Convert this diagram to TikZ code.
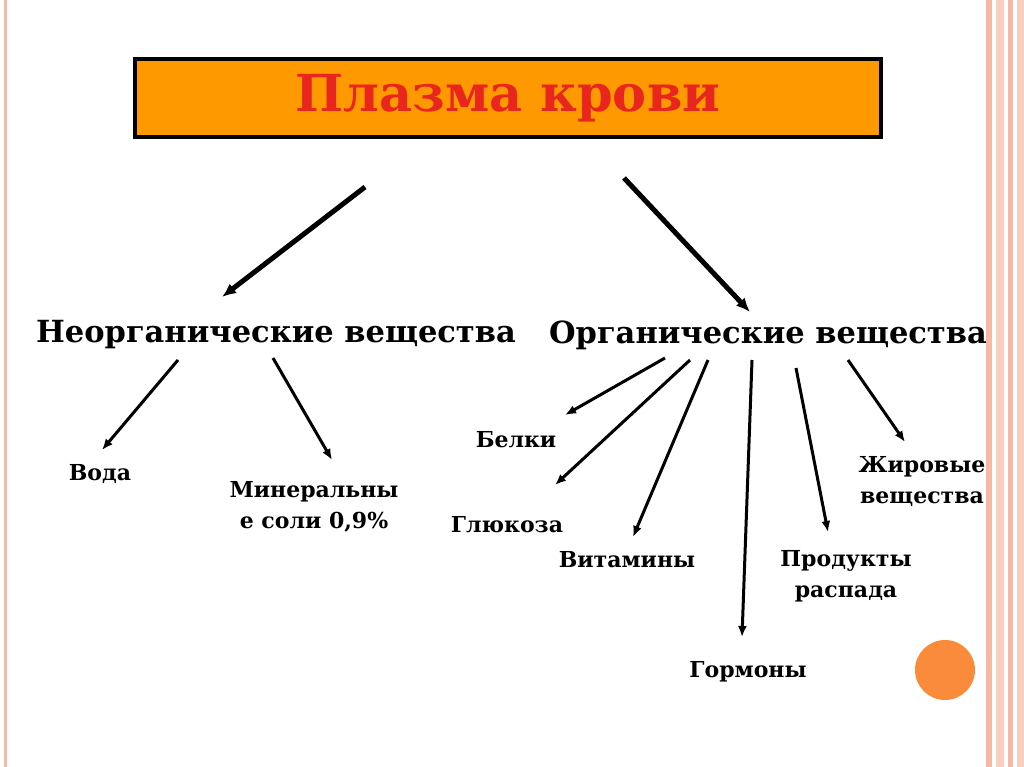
\documentclass[tikz,border=0pt]{standalone}
\usepackage{fontspec}
\setmainfont{DejaVu Serif}
\usetikzlibrary{arrows.meta}
\definecolor{titlefill}{HTML}{FF9900}
\definecolor{titletext}{HTML}{E8261E}
\definecolor{stripe}{HTML}{F6B9A4}
\definecolor{dot}{HTML}{F98B3A}
\tikzset{>={Latex[length=14pt,width=12pt]},
  bigarrow/.style={->,line width=5pt},
  smallarrow/.style={->,line width=3pt,>={Latex[length=11pt,width=9pt]}},
  group/.style={font=\fontsize{30.5}{34}\selectfont\bfseries},
  item/.style={font=\fontsize{22}{31}\selectfont\bfseries,align=center}}
\begin{document}
\begin{tikzpicture}[x=1pt,y=-1pt]
\useasboundingbox[fill=white] (0,0) rectangle (1024,767);
% border stripes
\fill[stripe] (4,0) rectangle (7,767);
\fill[stripe] (986,0) rectangle (992,767);
\fill[stripe!70] (996,0) rectangle (1004,767);
\fill[stripe] (1008,0) rectangle (1013,767);
\fill[stripe!70] (1017,0) rectangle (1024,767);
% title
\node[draw,line width=4pt,fill=titlefill,minimum width=746pt,minimum height=78pt,
  text=titletext,font=\fontsize{51}{56}\selectfont\bfseries] (plasma) at (508,98) {Плазма крови};
\coordinate (pl) at (365,187);
\coordinate (pr) at (624,178);
% groups
\node[group] (inorg) at (276,335) {Неорганические вещества};
\node[group] (org) at (768,335) {Органические вещества};
\draw[bigarrow] (pl) -- (222,297);
\draw[bigarrow] (pr) -- (750,312);
% items
\node[item] (water) at (100,474) {Вода};
\node[item] (mineral) at (314,507) {Минеральны\\е соли 0,9\%};
\node[item] (protein) at (516,440) {Белки};
\node[item] (glucose) at (507,525) {Глюкоза};
\node[item] (vitamin) at (627,560) {Витамины};
\node[item] (hormone) at (748,672) {Гормоны};
\node[item] (products) at (846,576) {Продукты\\распада};
\node[item] (fats) at (922,481) {Жировые\\вещества};
\draw[smallarrow] (178,360) -- (102,450);
\draw[smallarrow] (273,358) -- (332,460);
\draw[smallarrow] (665,358) -- (565,415);
\draw[smallarrow] (690,360) -- (555,485);
\draw[smallarrow] (708,360) -- (633,537);
\draw[smallarrow] (752,360) -- (742,637);
\draw[smallarrow] (796,368) -- (828,532);
\draw[smallarrow] (848,360) -- (905,442);
\fill[dot] (945,670) circle (30);
\end{tikzpicture}
\end{document}
